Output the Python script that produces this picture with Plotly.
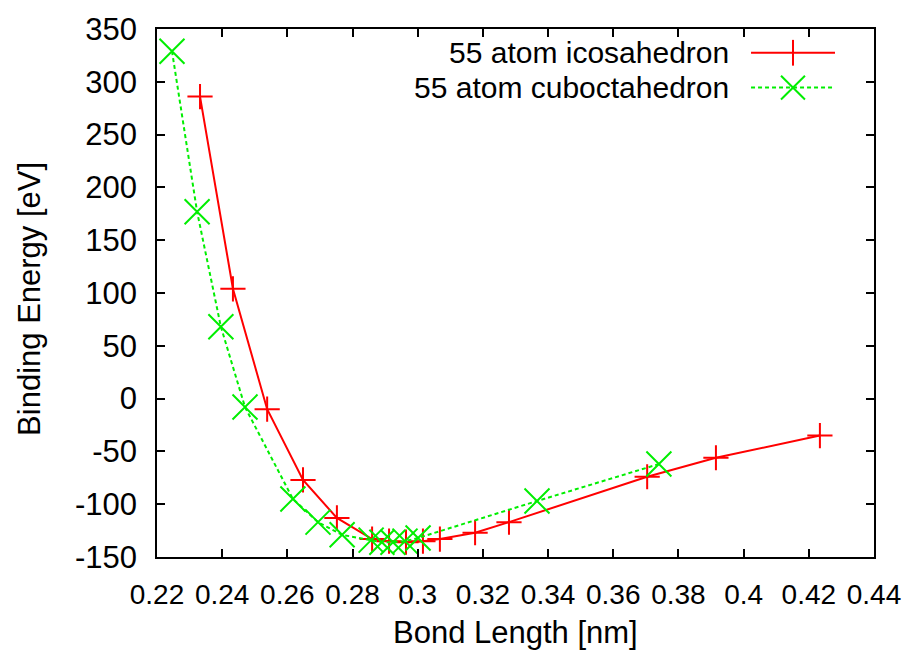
import plotly.graph_objects as go

# ---- data ----
ico_x = [0.2332, 0.2433, 0.2538, 0.2648, 0.2752, 0.2860, 0.2912, 0.2964, 0.3016,
         0.3068, 0.3176, 0.3280, 0.3704, 0.3915, 0.4234]
ico_y = [286, 104, -10, -77, -113, -133, -135, -136, -135, -133, -127, -117, -74, -56, -35]

cub_x = [0.2246, 0.2323, 0.2396, 0.2470, 0.2617, 0.2694, 0.2768, 0.2857, 0.2890,
         0.2924, 0.2961, 0.3001, 0.3366, 0.3740]
cub_y = [329, 177, 68, -8, -95, -117, -129, -134, -136, -136, -135, -132, -97, -62]

series_names = ["55 atom icosahedron", "55 atom cuboctahedron"]

x_ticks = [0.22, 0.24, 0.26, 0.28, 0.30, 0.32, 0.34, 0.36, 0.38, 0.40, 0.42, 0.44]
x_tick_labels = ["0.22", "0.24", "0.26", "0.28", "0.3", "0.32", "0.34", "0.36",
                 "0.38", "0.4", "0.42", "0.44"]
y_ticks = [-150, -100, -50, 0, 50, 100, 150, 200, 250, 300, 350]
y_tick_labels = ["-150", "-100", "-50", "0", "50", "100", "150", "200", "250", "300", "350"]

RED = "#ff0000"
GREEN = "#00ee00"
FONT = "Liberation Sans, Arial, sans-serif"

fig = go.Figure()
fig.add_trace(go.Scatter(
    x=ico_x, y=ico_y, mode="lines+markers", name=series_names[0],
    line=dict(color=RED, width=2),
    marker=dict(symbol="cross-thin-open", size=18, color=RED,
                line=dict(color=RED, width=2)),
    showlegend=False))
fig.add_trace(go.Scatter(
    x=cub_x, y=cub_y, mode="lines+markers", name=series_names[1],
    line=dict(color=GREEN, width=2, dash="4px,3px"),
    marker=dict(symbol="x-thin-open", size=25, color=GREEN,
                line=dict(color=GREEN, width=2)),
    showlegend=False))

axis_common = dict(showline=True, linecolor="black", linewidth=1.5, mirror="allticks",
                   ticks="inside", ticklen=8, tickwidth=1.5, tickcolor="black",
                   showgrid=False, zeroline=False, tickmode="array")

fig.update_xaxes(range=[0.22, 0.44], tickvals=x_ticks, ticktext=x_tick_labels,
                 tickfont=dict(family=FONT, size=28, color="black"),
                 ticklabelstandoff=12, **axis_common)
fig.update_yaxes(range=[-150, 350], tickvals=y_ticks, ticktext=y_tick_labels,
                 tickfont=dict(family=FONT, size=31, color="black"),
                 ticklabelstandoff=12, **axis_common)

# axis titles
fig.add_annotation(text="Bond Length [nm]", xref="paper", yref="paper", x=0.5, y=-0.143,
                   xanchor="center", yanchor="middle", showarrow=False,
                   font=dict(family=FONT, size=31, color="black"))
fig.add_annotation(text="Binding Energy [eV]", xref="paper", yref="paper", x=-0.177, y=0.489,
                   xanchor="center", yanchor="middle", textangle=-90, showarrow=False,
                   font=dict(family=FONT, size=31, color="black"))

# gnuplot-style legend: text right-aligned, sample on the right
leg_rows = [0.955, 0.889]
tx = 0.7992
lx0, lx1, mx = 0.8285, 0.9456, 0.887
for name, ry in zip(series_names, leg_rows):
    fig.add_annotation(text=name, xref="paper", yref="paper", x=tx, y=ry,
                       xanchor="right", yanchor="middle", showarrow=False, borderpad=0,
                       font=dict(family=FONT, size=30, color="black"))
# icosahedron sample
fig.add_shape(type="line", xref="paper", yref="paper", x0=lx0, x1=lx1, y0=leg_rows[0], y1=leg_rows[0],
              line=dict(color=RED, width=2))
fig.add_shape(type="line", xref="paper", yref="paper", x0=mx, x1=mx,
              y0=leg_rows[0] - 0.0244, y1=leg_rows[0] + 0.0244, line=dict(color=RED, width=2))
# cuboctahedron sample
fig.add_shape(type="line", xref="paper", yref="paper", x0=lx0, x1=lx1, y0=leg_rows[1], y1=leg_rows[1],
              line=dict(color=GREEN, width=2, dash="4px,3px"))
dx, dy = 0.0167, 0.0226
fig.add_shape(type="line", xref="paper", yref="paper", x0=mx - dx, x1=mx + dx,
              y0=leg_rows[1] - dy, y1=leg_rows[1] + dy, line=dict(color=GREEN, width=2))
fig.add_shape(type="line", xref="paper", yref="paper", x0=mx - dx, x1=mx + dx,
              y0=leg_rows[1] + dy, y1=leg_rows[1] - dy, line=dict(color=GREEN, width=2))

fig.update_layout(width=916, height=656, margin=dict(l=157, r=42, t=25, b=99),
                  paper_bgcolor="white", plot_bgcolor="white", showlegend=False,
                  font=dict(family=FONT, color="black"))

fig.write_html("out.html", config={"displayModeBar": False})
